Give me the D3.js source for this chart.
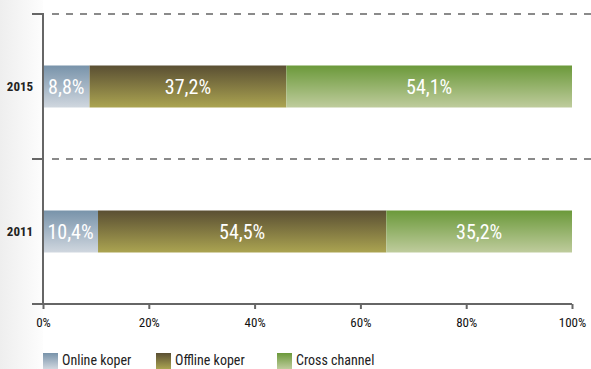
<!DOCTYPE html>
<html>
<head>
<meta charset="utf-8">
<script src="https://cdn.jsdelivr.net/npm/d3@7"></script>
<style>
  html, body { margin: 0; padding: 0; background: #fff; }
  svg { display: block; }
  text { font-family: "Roboto Condensed", "Roboto", sans-serif; font-stretch: condensed; }
</style>
</head>
<body>
<svg id="chart" width="591" height="369"></svg>
<script>
// Share of shoppers per channel, by year
const years = ["2015", "2011"];
const seriesNames = ["Online koper", "Offline koper", "Cross channel"];
const online = [8.8, 10.4];
const offline = [37.2, 54.5];
const cross = [54.1, 35.2];
const xTicks = [0, 20, 40, 60, 80, 100];

const gradients = [
  { id: "gOnline", top: "#7893aa", bottom: "#d0d7df" },
  { id: "gOffline", top: "#5a4f33", bottom: "#aba451" },
  { id: "gCross", top: "#6b993a", bottom: "#bfcc9d" }
];

const svg = d3.select("#chart");
const W = 591, H = 369;
const margin = { left: 43, right: 19, top: 14, bottom: 65 };

const defs = svg.append("defs");
gradients.forEach(g => {
  const lg = defs.append("linearGradient").attr("id", g.id)
    .attr("x1", 0).attr("y1", 0).attr("x2", 0).attr("y2", 1);
  lg.append("stop").attr("offset", "0%").attr("stop-color", g.top);
  lg.append("stop").attr("offset", "100%").attr("stop-color", g.bottom);
});
const bg = defs.append("linearGradient").attr("id", "gLeft")
  .attr("x1", 0).attr("y1", 0).attr("x2", 1).attr("y2", 0);
bg.append("stop").attr("offset", "0%").attr("stop-color", "#eeeeee");
bg.append("stop").attr("offset", "100%").attr("stop-color", "#fdfdfd");

// soft grey band behind the category labels
svg.append("rect").attr("x", 0).attr("y", 0).attr("width", margin.left).attr("height", H)
  .attr("fill", "url(#gLeft)");

const x = d3.scaleLinear().domain([0, 100]).range([margin.left, W - margin.right]);
const y = d3.scaleBand().domain(years).range([margin.top, H - margin.bottom]).paddingInner(0).paddingOuter(0);
const barH = 42;

// dashed separators at band edges
const bandEdges = [y("2015"), y("2011")];
svg.selectAll("line.grid").data(bandEdges).enter().append("line")
  .attr("class", "grid")
  .attr("x1", margin.left + 9).attr("x2", W)
  .attr("y1", d => d).attr("y2", d => d)
  .attr("stroke", "#8a8a8a").attr("stroke-width", 2).attr("stroke-dasharray", "7,7");
svg.selectAll("line.ltick").data(bandEdges).enter().append("line")
  .attr("class", "ltick")
  .attr("x1", margin.left - 11).attr("x2", margin.left)
  .attr("y1", d => d).attr("y2", d => d)
  .attr("stroke", "#666").attr("stroke-width", 2);

// stacked bars
const seriesData = [online, offline, cross];
years.forEach((yr, i) => {
  let acc = 0;
  seriesData.forEach((s, k) => {
    const v = s[i];
    const x0 = x(acc), x1 = x(Math.min(acc + v, 100));
    const yTop = y(yr) + y.bandwidth() / 2 - barH / 2;
    svg.append("rect")
      .attr("x", x0).attr("y", yTop).attr("width", x1 - x0).attr("height", barH)
      .attr("fill", `url(#${gradients[k].id})`);
    svg.append("text")
      .attr("x", (x0 + x1) / 2).attr("y", yTop + barH / 2 + 7)
      .attr("text-anchor", "middle").attr("fill", "#fff")
      .attr("font-size", 20)
      .text(v.toFixed(1).replace(".", ",") + "%");
    acc += v;
  });
  svg.append("text")
    .attr("x", 20).attr("y", y(yr) + y.bandwidth() / 2 + 4)
    .attr("text-anchor", "middle").attr("fill", "#222")
    .attr("font-size", 13).attr("font-weight", "bold")
    .text(yr);
});

// vertical axis line
svg.append("line")
  .attr("x1", margin.left).attr("x2", margin.left)
  .attr("y1", margin.top - 1).attr("y2", H - margin.bottom)
  .attr("stroke", "#666").attr("stroke-width", 2);

// bottom axis
const xAxis = d3.axisBottom(x).tickValues(xTicks).tickFormat(d => d + "%").tickSize(5).tickSizeOuter(0);
const gx = svg.append("g").attr("transform", `translate(0,${H - margin.bottom})`).call(xAxis);
gx.select(".domain").remove();
gx.append("line").attr("x1", margin.left - 11).attr("x2", x(100))
  .attr("stroke", "#666").attr("stroke-width", 2);
gx.selectAll(".tick line").attr("stroke", "#666").attr("stroke-width", 2);
gx.selectAll(".tick text").attr("fill", "#111").attr("font-size", 13).attr("font-weight", "normal")
  .attr("dy", "1.15em")
  .style("font-family", '"Roboto Condensed", "Roboto", sans-serif')
  .style("font-stretch", "condensed");

// legend
const legendX = [43, 156, 277];
const lg = svg.selectAll("g.legend").data(seriesNames).enter().append("g")
  .attr("class", "legend")
  .attr("transform", (d, i) => `translate(${legendX[i]},353)`);
lg.append("rect").attr("width", 15).attr("height", 16)
  .attr("fill", (d, i) => `url(#${gradients[i].id})`);
lg.append("text").attr("x", 19).attr("y", 12)
  .attr("fill", "#222").attr("font-size", 14)
  .text(d => d);
</script>
</body>
</html>
